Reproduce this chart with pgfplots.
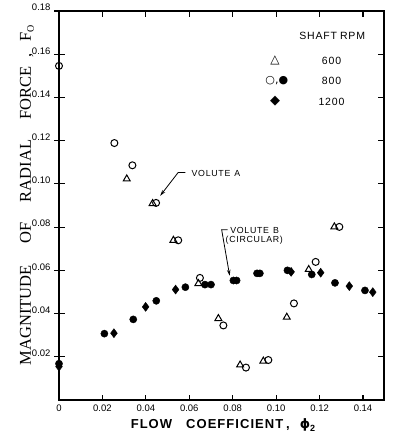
\documentclass[border=0pt]{standalone}
\usepackage{pgfplots}
\pgfplotsset{compat=1.18}
\usetikzlibrary{arrows.meta}
\usepackage{fontspec}
\setmainfont{Liberation Sans}
\newfontfamily\serifL{Liberation Serif}
\newfontfamily\sym{DejaVu Sans}
\newfontfamily\spaced[LetterSpace=8]{Liberation Sans}

\pgfplotstableread{
x y
0.0312 0.1023
0.0431 0.0909
0.0527 0.0739
0.0642 0.0539
0.0734 0.0377
0.0834 0.0162
0.0941 0.0180
0.1049 0.0383
0.1150 0.0604
0.1268 0.0801
}\triA

\pgfplotstableread{
x y
0.0000 0.1546
0.0255 0.1189
0.0338 0.1086
0.0447 0.0912
0.0549 0.0739
0.0649 0.0565
0.0757 0.0345
0.0861 0.0150
0.0964 0.0185
0.1082 0.0447
0.1182 0.0639
0.1291 0.0801
}\openB

\pgfplotstableread{
x y
0.0000 0.0168
0.0209 0.0307
0.0342 0.0373
0.0448 0.0459
0.0582 0.0522
0.0672 0.0534
0.0700 0.0534
0.0803 0.0553
0.0818 0.0553
0.0912 0.0586
0.0925 0.0586
0.1052 0.0600
0.1164 0.0581
0.1271 0.0542
0.1409 0.0507
}\fullB

\pgfplotstableread{
x y
0.0000 0.0155
0.0253 0.0309
0.0399 0.0431
0.0537 0.0511
0.1069 0.0593
0.1205 0.0589
0.1337 0.0527
0.1445 0.0499
}\diaC

\begin{document}
\begin{tikzpicture}
\useasboundingbox (-59pt,-45pt) rectangle (338pt,400pt);
\begin{axis}[
  at={(0,0)}, anchor=south west,
  scale only axis, width=325pt, height=389pt,
  xmin=0, xmax=0.14967, ymin=0, ymax=0.18,
  clip=false,
  axis line style={line width=1.1pt},
  tick align=inside,
  major tick length=5.5pt,
  tick style={line width=1.2pt, black},
  xtick={0,0.02,0.04,0.06,0.08,0.10,0.12,0.14},
  xticklabels={0,0.02,0.04,0.06,0.08,0.10,0.12,0.14},
  ytick={0.02,0.04,0.06,0.08,0.10,0.12,0.14,0.16,0.18},
  yticklabels={0.02,0.04,0.06,0.08,0.10,0.12,0.14,0.16,0.18},
  /pgf/number format/assume math mode=true,
  xticklabel style={font=\fontsize{9.5}{10}\selectfont, yshift=-1pt},
  yticklabel style={font=\fontsize{9.5}{10}\selectfont, anchor=south east, xshift=-5pt, yshift=-3.5pt},
]
\addplot[only marks, mark=*, mark size=3.6pt, black] table[x=x,y=y]{\fullB};
\addplot[only marks, mark=diamond*, mark size=4.5pt, black] table[x=x,y=y]{\diaC};
\addplot[only marks, mark=triangle, mark size=4pt, black, mark options={line width=1pt}] table[x=x,y=y]{\triA};
\addplot[only marks, mark=o, mark size=3.5pt, black, mark options={line width=1pt}] table[x=x,y=y]{\openB};

% thick left and bottom axis lines
\draw[line width=2pt] (rel axis cs:0,1) -- (rel axis cs:0,0) -- (rel axis cs:1,0);
% left outward ticks
\pgfplotsinvokeforeach{0.02,0.04,0.06,0.08,0.10,0.12,0.14,0.16,0.18}{
  \draw[line width=1.2pt] (axis cs:0,#1) -- ++(-5pt,0pt);
}

% annotations
\draw[line width=0.8pt, -{Stealth[length=6pt,width=3.5pt]}] (axis cs:0.0582,0.1053) -- (axis cs:0.0549,0.1053) -- (axis cs:0.0466,0.0945);
\node[anchor=west, inner sep=0pt, font=\spaced\fontsize{8.8}{10}\selectfont] at (axis cs:0.0610,0.1049) {VOLUTE\hspace{4pt}A};
\draw[line width=0.8pt, -{Stealth[length=6pt,width=3.5pt]}] (axis cs:0.0776,0.0788) -- (axis cs:0.0749,0.0788) -- (axis cs:0.0786,0.0575);
\node[anchor=west, inner sep=0pt, font=\spaced\fontsize{8.8}{10}\selectfont] at (axis cs:0.0788,0.0784) {VOLUTE\hspace{4pt}B};
\node[anchor=west, inner sep=0pt, font=\spaced\fontsize{8.8}{10}\selectfont] at (axis cs:0.0767,0.0738) {(CIRCULAR)};

% legend text
\node[inner sep=0pt, font=\spaced\fontsize{10.5}{12}\selectfont] at (axis cs:0.1258,0.1686) {SHAFT\hspace{3pt}RPM};
\node[inner sep=0pt, font=\sym\fontsize{12}{14}\selectfont] at (axis cs:0.0995,0.1572) {△};
\node[inner sep=0pt, font=\spaced\fontsize{10.5}{12}\selectfont] at (axis cs:0.1255,0.1569) {600};
\node[inner sep=0pt, font=\sym\fontsize{11}{13}\selectfont] at (axis cs:0.1003,0.1477) {○,●};
\node[inner sep=0pt, font=\spaced\fontsize{10.5}{12}\selectfont] at (axis cs:0.1255,0.1477) {800};
\node[inner sep=0pt, font=\sym\fontsize{13}{14}\selectfont] at (axis cs:0.0995,0.1381) {◆};
\node[inner sep=0pt, font=\spaced\fontsize{10.5}{12}\selectfont] at (axis cs:0.1255,0.1381) {1200};
\end{axis}
% axis labels
\node[rotate=90, inner sep=0pt, font=\serifL\fontsize{16.5}{18}\selectfont] at (-32pt,205pt)
  {MAGNITUDE\hspace{22pt}OF\hspace{20pt}RADIAL\hspace{20pt}FORCE\hspace{9pt},\hspace{12pt}F\raisebox{-3pt}{\fontsize{10}{11}\selectfont O}};
\node[inner sep=0pt, font=\spaced\bfseries\fontsize{13}{15}\selectfont] at (164pt,-25pt)
  {FLOW\hspace{14pt}COEFFICIENT\hspace{3pt},\hspace{10pt}{\sym\bfseries ϕ}\raisebox{-3pt}{\fontsize{9}{10}\selectfont 2}};
\end{tikzpicture}
\end{document}
